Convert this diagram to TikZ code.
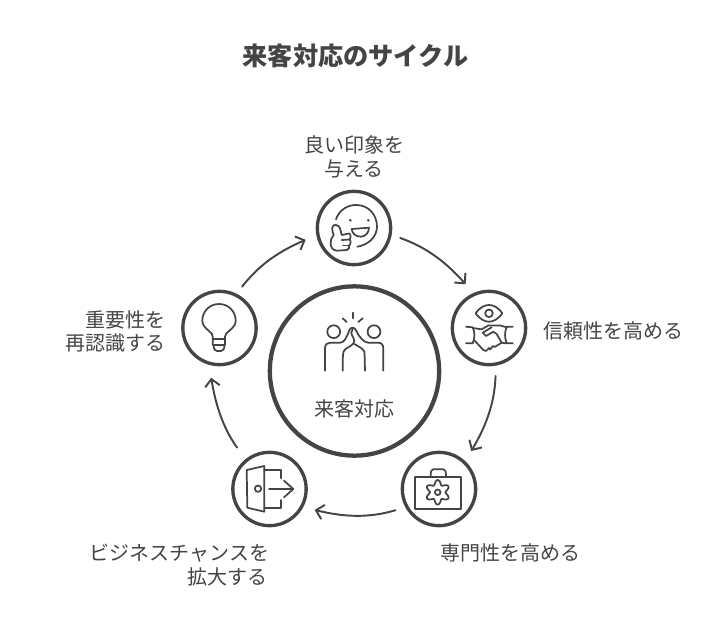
\documentclass[tikz,border=0pt]{standalone}
\usepackage{fontspec}
\setmainfont{Noto Sans CJK JP}
\usetikzlibrary{arrows.meta,bending}
\definecolor{ink}{HTML}{444444}
\tikzset{
  ring/.style={circle,draw=ink,line width=2.5pt,minimum size=55pt,inner sep=0pt,outer sep=0pt},
  hub/.style={circle,draw=ink,line width=3.2pt,minimum size=127pt,inner sep=0pt,outer sep=0pt},
  lbl/.style={text=ink,font=\fontsize{15}{18}\selectfont,inner sep=0pt},
  flow/.style={draw=ink,line width=1.45pt,-{Straight Barb[length=5.5pt,width=11pt,flex]},line cap=round},
  icon/.style={draw=ink,line width=1.3pt,line cap=round,line join=round}
}
\begin{document}
\begin{tikzpicture}[x=0.75pt,y=-0.75pt]
\useasboundingbox (0,0) rectangle (708,636);
\node[text=ink,font=\fontsize{18.9}{22}\selectfont\bfseries] (title) at (355.5,56) {来客対応のサイクル};
\node[hub] (hubc) at (354.5,371) {};
\node[ring] (c1) at (354,228) {};
\node[ring] (c2) at (489,328) {};
\node[ring] (c3) at (439,489) {};
\node[ring] (c4) at (269.5,489) {};
\node[ring] (c5) at (219.5,328) {};
\node[lbl] (hubt) at (354.5,409) {来客対応};
\node[lbl] (l1a) at (354,145) {良い印象を};
\node[lbl] (l1b) at (354,169) {与える};
\node[lbl,anchor=west] (l2) at (543,331) {信頼性を高める};
\node[lbl] (l3) at (510,553) {専門性を高める};
\node[lbl,anchor=east] (l4a) at (269.5,553) {ビジネスチャンスを};
\node[lbl,anchor=east] (l4b) at (268,577) {拡大する};
\node[lbl,anchor=east] (l5a) at (165.5,320) {重要性を};
\node[lbl,anchor=east] (l5b) at (165.5,343) {再認識する};
% connectors
\draw[flow,shorten <=8pt,shorten >=10pt] (c1.-10) to[bend left=16] (c2.114);
\draw[flow,shorten <=9pt,shorten >=10pt] (c2.-79) to[bend left=16] (c3.47);
\draw[flow,shorten <=9pt,shorten >=10pt] (c3.209) to[bend left=17] (c4.-28);
\draw[flow,shorten <=12pt,shorten >=11pt] (c4.129) to[bend left=15] (c5.-106);
\draw[flow,shorten <=8pt,shorten >=10pt] (c5.64) to[bend left=16] (c1.191);
% smile + thumb
\draw[icon] (336,219.3) .. controls (339,210) and (348,204.5) .. (357,205) .. controls (369,205.5) and (377,215) .. (377,226.7) .. controls (377,237) and (368,245) .. (357.3,246.7);
\fill[ink] (350.3,220.3) circle (1.4);
\fill[ink] (368.3,220.3) circle (1.4);
\draw[icon] (351.7,229) -- (369,227.7) .. controls (369,233) and (365,236.7) .. (360.7,236.7) .. controls (356,236.7) and (352,233.5) .. (351.7,229) -- cycle;
\draw[icon] (333.7,235) .. controls (332.5,232) and (332,230) .. (332.3,228.3) .. controls (332.5,225) and (335,224.5) .. (336,225) .. controls (338.5,225) and (339.5,227) .. (340,228.3) -- (341.7,235) -- (349,233.5) .. controls (351,233.5) and (351,238) .. (349.5,239.5) .. controls (351,240) and (351,245) .. (349,245.5) .. controls (350,247) and (349,249.5) .. (347,250) -- (337,250.7) .. controls (332,250.5) and (330.5,246) .. (330.7,243.3) .. controls (330.8,239) and (332,237) .. (333.7,235);
\draw[icon] (341.7,240) -- (349.5,239.5);
\draw[icon] (343,245.5) -- (349,245.5);
% eye + handshake
\draw[icon] (475.7,313.3) .. controls (480,307) and (485,305) .. (489,305) .. controls (493,305) and (498,307) .. (502.3,313.3) .. controls (498,319.5) and (493,321.7) .. (489,321.7) .. controls (485,321.7) and (480,319.5) .. (475.7,313.3) -- cycle;
\draw[icon] (489,313.3) circle (3.8);
\draw[icon] (466,326.7) -- (472.7,327.3) .. controls (475,332) and (475,338) .. (472.7,343.3) -- (466,343.3);
\draw[icon] (512.7,326.7) -- (506.7,326.7) .. controls (504.5,332) and (504.5,338) .. (506.7,343.3) -- (512.7,343.3);
\draw[icon] (472.7,328) -- (481.7,329.3) -- (488.3,325.5) -- (500,325.5) -- (506.7,327.3);
\draw[icon] (491.7,327.3) -- (482.7,332.7) -- (486,336) -- (493.3,331.7) -- (496.7,334) -- (501.7,342.7) -- (506,343.3);
\draw[icon] (474.7,340.7) -- (483.3,350) -- (486,351) -- (489,348) -- (490,349.5) -- (493,346) -- (494.5,347) -- (501.7,342.7);
% high five
\draw[icon] (333.7,331.7) circle (6.4);
\draw[icon] (374,331.7) circle (6.4);
\draw[icon] (352.7,312.7) -- (352.7,318.3);
\draw[icon] (342.7,318.3) -- (346.7,322);
\draw[icon] (362.7,318.3) -- (358.3,322);
\draw[icon] (325,370.7) -- (325,348.3) .. controls (325,344.5) and (327,342.7) .. (330,342.7) -- (340,342.7) .. controls (344,342.7) and (346.5,338) .. (349,331) .. controls (349.5,328.5) and (351,327.7) .. (352.7,327.7) .. controls (354.5,327.7) and (355.5,329) .. (356,330.5) .. controls (359,337) and (364,342.7) .. (368.3,342.7) -- (378.3,342.7) .. controls (381.5,342.7) and (383.3,345) .. (383.3,348.3) -- (383.3,370.7);
\draw[icon] (352.7,329) .. controls (350.5,331) and (351,334) .. (353,337) .. controls (354.5,340) and (355,343) .. (353,344) .. controls (350,347) and (345,348) .. (343.5,351.7) .. controls (342.5,356) and (342.7,365) .. (342.7,370.7);
\draw[icon] (354.5,344) .. controls (358,346.5) and (363,348) .. (364.5,352) -- (365,370.7);
% bulb
\draw[icon] (212.7,336.7) .. controls (212.5,333.5) and (211.5,333.5) .. (209.5,331.5) .. controls (204,327) and (202.3,324) .. (202.3,320.7) .. controls (202.3,311.5) and (209.5,304) .. (219,304) .. controls (228.5,304) and (235.7,311.5) .. (235.7,320.7) .. controls (235.7,324) and (234,327) .. (228.5,331.5) .. controls (226.5,333.5) and (225.2,333.5) .. (225,336.7) -- (225,345) -- (212.7,345) -- cycle;
\draw[icon] (212.7,339) -- (225,339);
\draw[icon] (213.5,345) .. controls (213.5,349) and (215,351) .. (217,351) -- (221,351) .. controls (223,351) and (224.5,349) .. (224.5,345);
% door
\draw[icon] (246.7,470) -- (264.3,466) -- (264.3,511.7) -- (247.3,507.7) -- cycle;
\draw[icon] (258,488.7) circle (3.2);
\draw[icon] (264.3,470) -- (281,470) -- (281,478.3);
\draw[icon] (264.3,508.3) -- (281,508.3) -- (281,500);
\draw[icon] (269,489) -- (293.3,489);
\draw[icon] (284,480.7) -- (293.3,489) -- (284,497.3);
% briefcase
\draw[icon] (415,477.3) -- (461,477.3) -- (461,509) -- (415,509) -- cycle;
\draw[icon] (430.7,475.7) .. controls (430.7,471) and (431.5,469.3) .. (433.3,469.3) -- (443.3,469.3) .. controls (445,469.3) and (446,471) .. (446,475.7);
\draw[icon] plot[domain=0:360,samples=73,smooth] ({437.7+(10+2.3*cos(6*\x))*cos(\x+90)},{492.3+(10+2.3*cos(6*\x))*sin(\x+90)}) -- cycle;
\draw[icon] (437.7,492.3) circle (2.8);
\end{tikzpicture}
\end{document}
